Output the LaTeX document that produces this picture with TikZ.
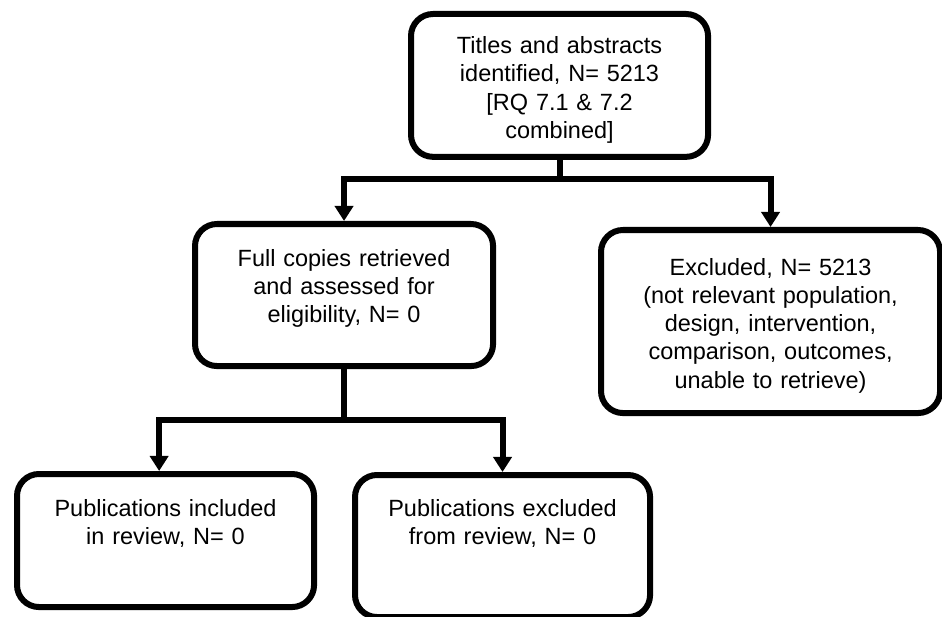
\documentclass[tikz,border=0pt]{standalone}
\usepackage{fontspec}
\setmainfont{Liberation Sans}
\usepackage{tikz}
\usetikzlibrary{arrows.meta}
\usetikzlibrary{calc}

\begin{document}
\begin{tikzpicture}[x=0.025cm,y=-0.025cm,
            boite/.style={draw,line width=0.15cm,rounded corners=0.55cm,inner sep=0pt,anchor=north west,align=center,font=\fontsize{16.7}{20.1}\selectfont},
            trait/.style={line width=0.15cm},
            fleche/.style={trait,-{Triangle[width=0.45cm,length=0.375cm]}}]
            \useasboundingbox (0,0) rectangle (942,617);

            \node[boite,text width=7.425cm,text height=0.99cm,text depth=2.58cm] (A) at (408,11) {Titles and abstracts\\identified, N= 5213\\{[}RQ 7.1 \& 7.2\\combined{]}};
            \node[boite,text width=7.45cm,text height=1.05cm,text depth=2.5cm] (B) at (192,221) {Full copies retrieved\\and assessed for\\eligibility, N= 0};
            \node[boite,text width=8.475cm,text height=1.125cm,text depth=3.45cm] (C) at (598,227) {Excluded, N= 5213\\(not relevant population,\\design, intervention,\\comparison, outcomes,\\unable to retrieve)};
            \node[boite,text width=7.425cm,text height=1.05cm,text depth=2.275cm] (D) at (14,471) {Publications included\\in review, N= 0};
            \node[boite,text width=7.375cm,text height=1.025cm,text depth=2.525cm] (E) at (352,472) {Publications excluded\\from review, N= 0};

            \coordinate (P) at (A.south |- 0,179);
            \coordinate (Q) at (B.south |- 0,420);

            \draw[trait] (A.south) -- (P);
            \foreach \n in {B,C} {
                \draw[fleche] (P) -| (\n.north);
            }
            \draw[trait] (B.south) -- (Q);
            \draw[fleche] (Q) -| ([xshift=-0.16cm]D.north);
            \draw[fleche] (Q) -| (E.north);
        \end{tikzpicture}
\end{document}
